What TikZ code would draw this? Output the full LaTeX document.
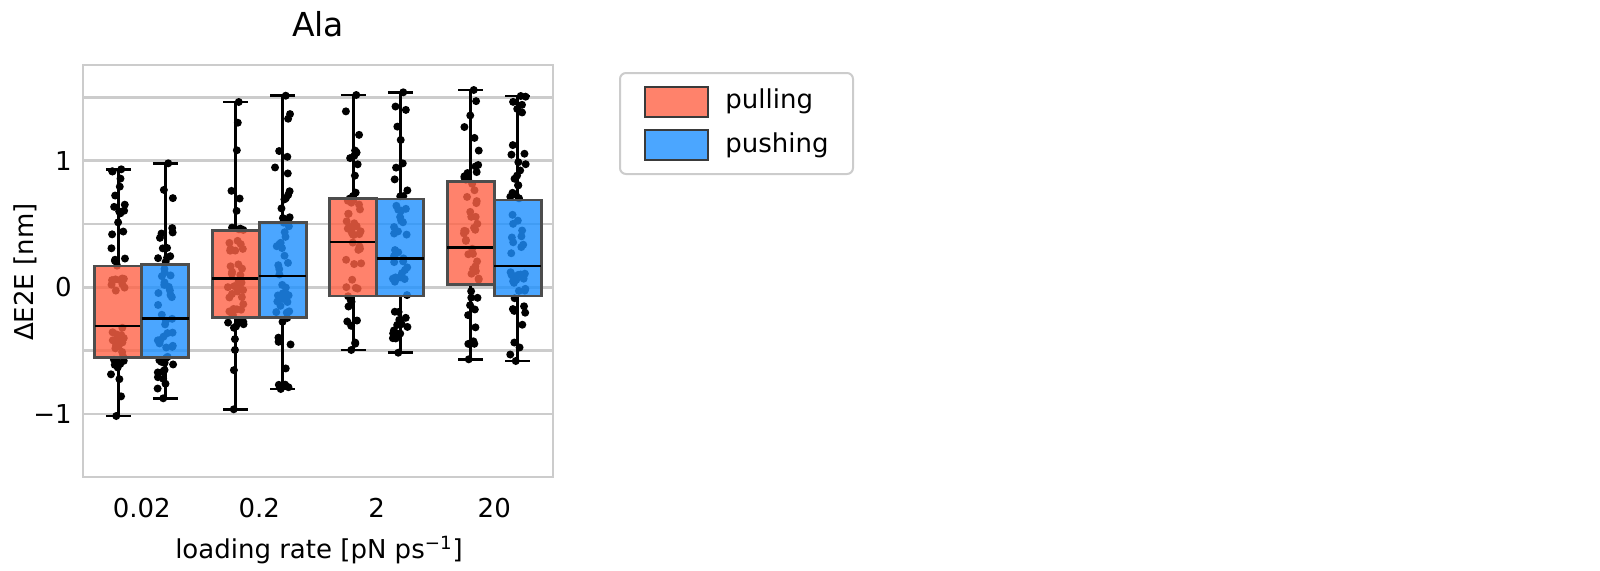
\documentclass[tikz,border=0pt]{standalone}
\usepackage{fontspec}
\setmainfont{DejaVu Sans}
\definecolor{tomatoc}{RGB}{255,99,71}
\definecolor{dodgerc}{RGB}{30,144,255}
\definecolor{gridc}{RGB}{204,204,204}
\definecolor{edgec}{RGB}{77,77,77}
\definecolor{legedge}{RGB}{58,58,58}
\tikzset{
  gridline/.style={draw=gridc, line width=1.3pt},
  whisk/.style={draw=black, line width=1.4pt},
  boxst/.style={draw=edgec, line width=1.4pt, fill opacity=0.8},
  medst/.style={draw=black, line width=1.4pt},
  dot/.style={fill=black},
  ticklab/.style={font=\fontsize{13}{15}\selectfont, inner sep=0pt},
  leglab/.style={font=\fontsize{13}{15}\selectfont, inner sep=0pt, anchor=base west},
}
% #1 cx, #2 top cap, #3 q3, #4 median, #5 q1, #6 bottom cap, #7 colour, #8 seed
\newcommand\onebox[8]{%
  \draw[whisk] (#1,#2) -- (#1,#3) (#1,#5) -- (#1,#6);
  \draw[whisk] (#1-12.5,#2) -- (#1+12.5,#2) (#1-12.5,#6) -- (#1+12.5,#6);
  \pgfmathsetseed{#8}
  \fill[dot] (#1+3,#2) circle (2pt);
  \fill[dot] (#1-2,#6) circle (2pt);
  \foreach \k in {1,...,50}{
    \pgfmathsetmacro\uu{rnd}
    \pgfmathsetmacro\yy{ifthenelse(\uu<0.25, #3-(#3-#2)*(\uu/0.25)*sqrt(abs(\uu/0.25)),
      ifthenelse(\uu<0.5, #3+(#4-#3)*(\uu-0.25)/0.25,
      ifthenelse(\uu<0.75, #4+(#5-#4)*(\uu-0.5)/0.25,
      #5+(#6-#5)*((\uu-0.75)/0.25)*sqrt(abs((\uu-0.75)/0.25)))))}
    \pgfmathsetmacro\xx{#1+8*rand}
    \fill[dot] (\xx,\yy) circle (2pt);
  }
  \filldraw[boxst, fill=#7] (#1-23.5,#3) rectangle (#1+23.5,#5);
  \draw[medst] (#1-23.5,#4) -- (#1+23.5,#4);
}
\begin{document}
\begin{tikzpicture}[x=0.5pt, y=-0.5pt]
\useasboundingbox (0,0) rectangle (1600,570);
% grid
\foreach \gy in {97.25,160.6,224,287.3,350.7,414}{
  \draw[gridline] (83,\gy) -- (553,\gy);
}
\draw[gridline] (83,65) rectangle (553,477);
% title
\node[font=\fontsize{16.5}{19}\selectfont, anchor=base, inner sep=0pt] (title) at (318,36) {Ala};
% y ticks
\node[ticklab, anchor=east] (y1) at (72,160.6) {1};
\node[ticklab, anchor=east] (y0) at (72,287.3) {0};
\node[ticklab, anchor=east] (ym1) at (72,414) {−1};
\node[ticklab, rotate=90, anchor=center] (ylab) at (25,272) {ΔE2E [nm]};
% x ticks
\node[ticklab, anchor=base] (x1) at (141.75,517) {0.02};
\node[ticklab, anchor=base] (x2) at (259.25,517) {0.2};
\node[ticklab, anchor=base] (x3) at (376.75,517) {2};
\node[ticklab, anchor=base] (x4) at (494.25,517) {20};
\node[ticklab, anchor=base] (xlab) at (319,558) {loading rate [pN ps\textsuperscript{−1}]};
% boxes
\onebox{118.25}{169.3}{266}{326}{357.7}{416}{tomatoc}{11}
\onebox{165.25}{163.3}{264.3}{318.3}{357.7}{398.3}{dodgerc}{12}
\onebox{235.75}{102}{230.7}{278.7}{317.7}{409.3}{tomatoc}{21}
\onebox{282.75}{95.7}{222.7}{276}{317.7}{389}{dodgerc}{22}
\onebox{353.25}{95}{198.7}{242}{296}{350}{tomatoc}{31}
\onebox{400.25}{92.3}{199}{258.7}{296}{352.7}{dodgerc}{32}
\onebox{470.75}{90}{181.7}{247.3}{284.3}{359.3}{tomatoc}{41}
\onebox{517.75}{96}{200}{266}{296}{361}{dodgerc}{42}
% legend
\draw[draw=gridc, line width=1pt, fill=white, rounded corners=3pt] (620,73) rectangle (853,174);
\filldraw[draw=legedge, line width=1.3pt, fill=tomatoc, fill opacity=0.8] (645,87) rectangle (708,117);
\filldraw[draw=legedge, line width=1.3pt, fill=dodgerc, fill opacity=0.8] (645,130) rectangle (708,160);
\node[leglab] (lpull) at (725,108) {pulling};
\node[leglab] (lpush) at (725,152) {pushing};
\end{tikzpicture}
\end{document}
